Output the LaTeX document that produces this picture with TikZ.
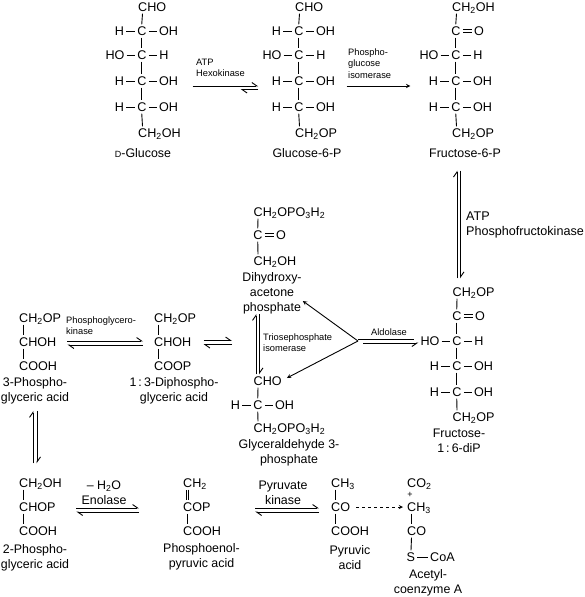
\documentclass[tikz,border=0pt]{standalone}
\usepackage{fontspec}
\setmainfont{Liberation Sans}
\usetikzlibrary{arrows.meta}
\newcommand{\low}[1]{\textsubscript{#1}}
\newcommand{\vbond}[2]{\draw[bond] ([xshift=6.5pt]#1.south west) -- ([xshift=6.5pt]#2.north west);}
\tikzset{
    atom/.style={inner sep=2pt, text height=9pt, text depth=0pt, font=\fontsize{12.6}{15}\selectfont},
    formula/.style={atom, anchor=west},
    Hleft/.style={atom, node distance=22.5pt, left of=#1},
    HOleft/.style={atom, node distance=27pt, left of=#1},
    Hright/.style={atom, node distance=22pt, right of=#1},
    OHright/.style={atom, node distance=26.5pt, right of=#1},
    Oright/.style={atom, node distance=23pt, right of=#1},
    molname/.style={inner sep=1pt, align=center, font=\fontsize{12.4}{15}\selectfont},
    enzyme/.style={inner sep=0pt, anchor=west, align=left, font=\fontsize{9.3}{11.3}\selectfont},
    bigenzyme/.style={inner sep=0pt, anchor=west, align=left, font=\fontsize{12.6}{15}\selectfont},
    bond/.style={line width=0.9pt},
    dblbond/.style={line width=0.7pt, double, double distance=1.8pt},
    half/.style={line width=0.9pt, -{Straight Barb[harpoon, length=5pt, width=7pt, line width=0.9pt]}},
    plain/.style={line width=0.9pt}
}
\begin{document}
\begin{tikzpicture}[x=1pt,y=-1pt,>=stealth]
    \useasboundingbox (0,0) rectangle (585,597);

    \node (gtop) [formula] at (136,7) {CHO};
    \node (gc1) [atom] at (142,31) {C};
    \node (gh1) [Hleft=gc1] {H};
    \node (goh1) [OHright=gc1] {OH};
    \node (gc2) [atom] at (142,55) {C};
    \node (gho2) [HOleft=gc2] {HO};
    \node (gh2) [Hright=gc2] {H};
    \node (gc3) [atom] at (142,81) {C};
    \node (gh3) [Hleft=gc3] {H};
    \node (goh3) [OHright=gc3] {OH};
    \node (gc4) [atom] at (142,107) {C};
    \node (gh4) [Hleft=gc4] {H};
    \node (goh4) [OHright=gc4] {OH};
    \node (gbot) [formula] at (136,133) {CH\low{2}OH};
    \node (gname) [molname] at (143,153) {{\fontsize{9}{9}\selectfont D}-Glucose};

    \node (ptop) [formula] at (293,7) {CHO};
    \node (pc1) [atom] at (299,31) {C};
    \node (ph1) [Hleft=pc1] {H};
    \node (poh1) [OHright=pc1] {OH};
    \node (pc2) [atom] at (299,55) {C};
    \node (pho2) [HOleft=pc2] {HO};
    \node (ph2) [Hright=pc2] {H};
    \node (pc3) [atom] at (299,81) {C};
    \node (ph3) [Hleft=pc3] {H};
    \node (poh3) [OHright=pc3] {OH};
    \node (pc4) [atom] at (299,107) {C};
    \node (ph4) [Hleft=pc4] {H};
    \node (poh4) [OHright=pc4] {OH};
    \node (pbot) [formula] at (293,133) {CH\low{2}OP};
    \node (pname) [molname] at (307,153) {Glucose-6-P};

    \node (ftop) [formula] at (450,7) {CH\low{2}OH};
    \node (fc1) [atom] at (456,31) {C};
    \node (fo1) [Oright=fc1] {O};
    \node (fc2) [atom] at (456,55) {C};
    \node (fho2) [HOleft=fc2] {HO};
    \node (fh2) [Hright=fc2] {H};
    \node (fc3) [atom] at (456,81) {C};
    \node (fh3) [Hleft=fc3] {H};
    \node (foh3) [OHright=fc3] {OH};
    \node (fc4) [atom] at (456,107) {C};
    \node (fh4) [Hleft=fc4] {H};
    \node (foh4) [OHright=fc4] {OH};
    \node (fbot) [formula] at (450,133) {CH\low{2}OP};
    \node (fname) [molname] at (465,153) {Fructose-6-P};

    \node (dtop) [formula] at (450.5,292) {CH\low{2}OP};
    \node (dc1) [atom] at (457,316) {C};
    \node (do1) [Oright=dc1] {O};
    \node (dc2) [atom] at (457,341) {C};
    \node (dho2) [HOleft=dc2] {HO};
    \node (dh2) [Hright=dc2] {H};
    \node (dc3) [atom] at (457,366) {C};
    \node (dh3) [Hleft=dc3] {H};
    \node (doh3) [OHright=dc3] {OH};
    \node (dc4) [atom] at (457,392) {C};
    \node (dh4) [Hleft=dc4] {H};
    \node (doh4) [OHright=dc4] {OH};
    \node (dbot) [formula] at (450.5,417) {CH\low{2}OP};
    \node (dname) [molname] at (459,441) {Fructose-\\1\,:\,6-diP};

    \node (htop) [formula] at (251.5,212) {CH\low{2}OPO\low{3}H\low{2}};
    \node (hc1) [atom] at (258,235) {C};
    \node (ho1) [Oright=hc1] {O};
    \node (hbot) [formula] at (251.5,261) {CH\low{2}OH};
    \node (hname) [molname] at (272,293) {Dihydroxy-\\acetone\\phosphate};

    \node (ttop) [formula] at (251.5,381) {CHO};
    \node (tc1) [atom] at (258,405) {C};
    \node (th1) [Hleft=tc1] {H};
    \node (toh1) [OHright=tc1] {OH};
    \node (tbot) [formula] at (251.5,428) {CH\low{2}OPO\low{3}H\low{2}};
    \node (tname) [molname] at (289,453) {Glyceraldehyde 3-\\phosphate};

    \node (atop) [formula] at (17,318) {CH\low{2}OP};
    \node (amid) [formula] at (17,342) {CHOH};
    \node (abot) [formula] at (17,366) {COOH};
    \node (aname) [molname] at (35,390.5) {3-Phospho-\\glyceric acid};

    \node (btop) [formula] at (152,318) {CH\low{2}OP};
    \node (bmid) [formula] at (152,342) {CHOH};
    \node (bbot) [formula] at (152,366) {COOP};
    \node (bname) [molname] at (174,390.5) {1\,:\,3-Diphospho-\\glyceric acid};

    \node (qtop) [formula] at (17,483) {CH\low{2}OH};
    \node (qmid) [formula] at (17,507) {CHOP};
    \node (qbot) [formula] at (17,531) {COOH};
    \node (qname) [molname] at (35,558) {2-Phospho-\\glyceric acid};

    \node (etop) [formula] at (181,483) {CH\low{2}};
    \node (emid) [formula] at (181,507) {COP};
    \node (ebot) [formula] at (181,531) {COOH};
    \node (ename) [molname] at (201.5,557) {Phosphoenol-\\pyruvic acid};

    \node (rtop) [formula] at (329,483) {CH\low{3}};
    \node (rmid) [formula] at (329,507) {CO};
    \node (rbot) [formula] at (329,531) {COOH};
    \node (rname) [molname] at (350,557.5) {Pyruvic\\acid};

    \node (xtop) [formula] at (405,483) {CO\low{2}};
    \node (xplus) [inner sep=0pt, text height=5pt, text depth=0pt, font=\fontsize{9}{9}\selectfont] at (410,495) {+};
    \node (xmid) [formula] at (405,507) {CH\low{3}};
    \node (xco) [formula] at (405,531) {CO};
    \node (xs) [formula] at (404.5,557) {S};
    \node (xcoa) [formula] at (428,557) {CoA};
    \node (xname) [molname] at (428,582.5) {Acetyl-\\coenzyme A};

    \node (hexo) [enzyme] at (196,68) {ATP\\Hexokinase};
    \node (isom) [enzyme] at (348,63.5) {Phospho-\\glucose\\isomerase};
    \node (pfk) [bigenzyme] at (466,224.5) {ATP\\Phosphofructokinase};
    \node (trio) [enzyme] at (263,342.5) {Triosephosphate\\isomerase};
    \node (aldo) [enzyme] at (371,332) {Aldolase};
    \node (pgk) [enzyme] at (66,325.5) {Phosphoglycero-\\kinase};
    \node (enol) [molname] at (104,492.5) {-- H\low{2}O\\Enolase};
    \node (pyrk) [molname] at (283,492.5) {Pyruvate\\kinase};

    \coordinate (split) at (358,341);
    \coordinate (triose) at (232,342);

    \vbond{gtop}{gc1} \vbond{gc1}{gc2} \vbond{gc2}{gc3} \vbond{gc3}{gc4} \vbond{gc4}{gbot}
    \vbond{ptop}{pc1} \vbond{pc1}{pc2} \vbond{pc2}{pc3} \vbond{pc3}{pc4} \vbond{pc4}{pbot}
    \vbond{ftop}{fc1} \vbond{fc1}{fc2} \vbond{fc2}{fc3} \vbond{fc3}{fc4} \vbond{fc4}{fbot}
    \vbond{dtop}{dc1} \vbond{dc1}{dc2} \vbond{dc2}{dc3} \vbond{dc3}{dc4} \vbond{dc4}{dbot}
    \vbond{htop}{hc1} \vbond{hc1}{hbot}
    \vbond{ttop}{tc1} \vbond{tc1}{tbot}
    \vbond{atop}{amid} \vbond{amid}{abot}
    \vbond{btop}{bmid} \vbond{bmid}{bbot}
    \vbond{qtop}{qmid} \vbond{qmid}{qbot}
    \vbond{emid}{ebot}
    \vbond{rtop}{rmid} \vbond{rmid}{rbot}
    \vbond{xmid}{xco} \vbond{xco}{xs}
    \draw[dblbond] ([xshift=6.5pt]etop.south west) -- ([xshift=6.5pt]emid.north west);

    \draw[bond] (gh1) -- (gc1);
    \draw[bond] (gc1) -- (goh1);
    \draw[bond] (gho2) -- (gc2);
    \draw[bond] (gc2) -- (gh2);
    \draw[bond] (gh3) -- (gc3);
    \draw[bond] (gc3) -- (goh3);
    \draw[bond] (gh4) -- (gc4);
    \draw[bond] (gc4) -- (goh4);

    \draw[bond] (ph1) -- (pc1);
    \draw[bond] (pc1) -- (poh1);
    \draw[bond] (pho2) -- (pc2);
    \draw[bond] (pc2) -- (ph2);
    \draw[bond] (ph3) -- (pc3);
    \draw[bond] (pc3) -- (poh3);
    \draw[bond] (ph4) -- (pc4);
    \draw[bond] (pc4) -- (poh4);

    \draw[dblbond] (fc1) -- (fo1);
    \draw[bond] (fho2) -- (fc2);
    \draw[bond] (fc2) -- (fh2);
    \draw[bond] (fh3) -- (fc3);
    \draw[bond] (fc3) -- (foh3);
    \draw[bond] (fh4) -- (fc4);
    \draw[bond] (fc4) -- (foh4);

    \draw[dblbond] (dc1) -- (do1);
    \draw[bond] (dho2) -- (dc2);
    \draw[bond] (dc2) -- (dh2);
    \draw[bond] (dh3) -- (dc3);
    \draw[bond] (dc3) -- (doh3);
    \draw[bond] (dh4) -- (dc4);
    \draw[bond] (dc4) -- (doh4);

    \draw[dblbond] (hc1) -- (ho1);
    \draw[bond] (th1) -- (tc1);
    \draw[bond] (tc1) -- (toh1);
    \draw[bond] (xs) -- (xcoa);

    \draw[half, shorten <=12.5pt, shorten >=11.5pt] ([yshift=-5pt]goh3.east) -- ([yshift=-5pt]ph3.west);
    \draw[half, shorten <=11.5pt, shorten >=60.5pt] ([yshift=-8.5pt]ph3.west) -- ([yshift=-8.5pt]goh3.east);
    \draw[->, plain, shorten <=9.5pt, shorten >=16.5pt] ([yshift=-5pt]poh3.east) -- ([yshift=-5pt]fh3.west);

    \draw[half, shorten <=7pt, shorten >=12pt] (dtop.north -| dc1.north) -- (fname.south -| dc1.north);
    \draw[half, shorten <=12pt, shorten >=7pt] ([xshift=3.5pt]fname.south -| dc1.north) -- ([xshift=3.5pt]dtop.north -| dc1.north);

    \draw[half, shorten >=-1pt] ([xshift=-2pt]ttop.north -| tc1.north) -- ([xshift=-2pt]hname.south -| tc1.north);
    \draw[half, shorten <=-1pt] ([xshift=1.5pt]hname.south -| tc1.north) -- ([xshift=1.5pt]ttop.north -| tc1.north);

    \draw[->, plain] (split) -- ([yshift=-8pt]hname.east);
    \draw[->, plain] (split) -- ([xshift=3pt,yshift=3pt]ttop.east);
    \draw[plain, shorten >=4.5pt] ([yshift=1.5pt]split) -- ([yshift=1.5pt]dho2.west);
    \draw[plain, shorten >=4.5pt, {Straight Barb[harpoon,swap,length=5pt,width=7pt,line width=0.9pt]}-] ([yshift=-2pt]dho2.west) -- ([yshift=-2pt]split);

    \draw[half, shorten <=9pt, shorten >=9pt] ([yshift=1pt]amid.east) -- ([yshift=1pt]bmid.west);
    \draw[half, shorten <=9pt, shorten >=9pt] ([yshift=-3pt]bmid.west) -- ([yshift=-3pt]amid.east);
    \draw[half, shorten <=10pt] ([yshift=1.5pt]bmid.east) -- ([yshift=1.5pt]triose);
    \draw[half, shorten >=10pt] ([yshift=-2.5pt]triose) -- ([yshift=-2.5pt]bmid.east);

    \draw[half, shorten <=13pt, shorten >=6pt] ([xshift=-2pt]qtop.north -| aname.south) -- ([xshift=-2pt]aname.south);
    \draw[half, shorten <=6pt, shorten >=13pt] ([xshift=2pt]aname.south) -- ([xshift=2pt]qtop.north -| aname.south);

    \draw[half, shorten <=18.5pt, shorten >=42pt] ([yshift=-1pt]qmid.east) -- ([yshift=-1pt]emid.west);
    \draw[half, shorten <=42pt, shorten >=18.5pt] ([yshift=-5pt]emid.west) -- ([yshift=-5pt]qmid.east);
    \draw[half, shorten <=42.5pt, shorten >=10pt] ([yshift=-1pt]emid.east) -- ([yshift=-1pt]rmid.west);
    \draw[half, shorten <=10pt, shorten >=42.5pt] ([yshift=-5pt]rmid.west) -- ([yshift=-5pt]emid.east);

    \draw[->, plain, dashed, shorten <=4pt, shorten >=2pt] (rmid) -- (xmid);
\end{tikzpicture}
\end{document}
